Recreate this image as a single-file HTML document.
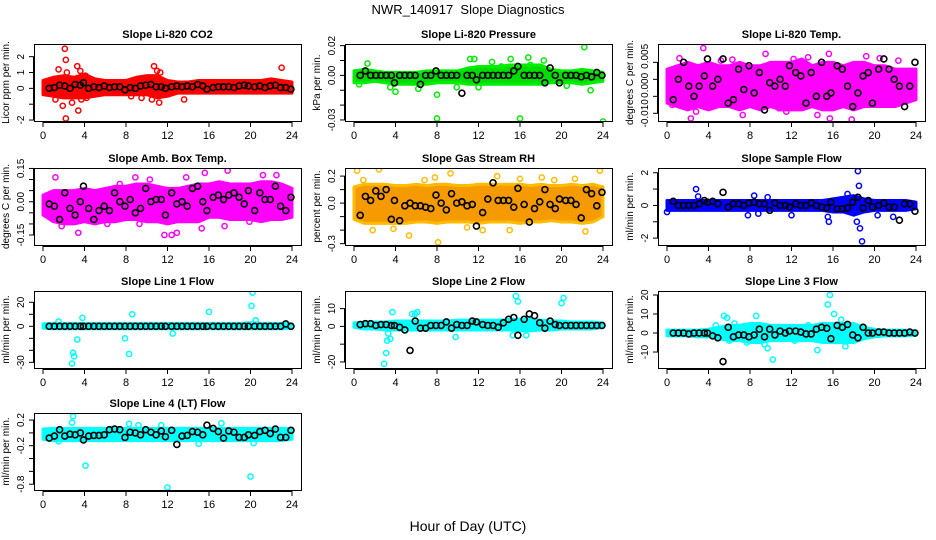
<!DOCTYPE html>
<html><head><meta charset="utf-8"><title>NWR_140917 Slope Diagnostics</title>
<style>
html,body{margin:0;padding:0;background:#fff;}
svg{display:block;font-family:"Liberation Sans",Arial,sans-serif;}
</style></head>
<body>
<svg id="chart" width="936" height="540" viewBox="0 0 936 540" xmlns="http://www.w3.org/2000/svg">
<rect x="0" y="0" width="936" height="540" fill="#fff"/>
<text x="468" y="14" text-anchor="middle" font-size="13">NWR_140917&#160; Slope Diagnostics</text>
<text x="468" y="531" text-anchor="middle" font-size="14">Hour of Day (UTC)</text>
</svg>
<script>
// ---- shared data ----
const hourTicks = [0,4,8,12,16,20,24];
const bandHours = [0,1,2,3,4,5,6,7,8,9,10,11,12,13,14,15,16,17,18,19,20,21,22,23,24];
const blackHours = [0.6,1.1,1.6,2.1,2.6,3.1,3.6,3.9,4.4,4.9,5.4,5.9,6.4,6.9,7.4,7.9,8.4,8.9,9.4,9.9,10.4,10.9,11.4,11.8,12.4,12.9,13.4,13.9,14.4,14.9,15.4,15.8,16.4,16.9,17.4,17.9,18.4,18.9,19.4,19.8,20.4,20.9,21.4,21.9,22.4,22.9,23.4,23.9];

// ---- CO2 ----
const co2Lower = [-0.4,-0.5,-0.6,-0.6,-0.6,-0.5,-0.4,-0.4,-0.4,-0.4,-0.4,-0.6,-0.5,-0.3,-0.3,-0.3,-0.3,-0.3,-0.3,-0.3,-0.3,-0.3,-0.3,-0.3,-0.3];
const co2Upper = [0.5,0.7,0.8,0.7,0.9,0.6,0.5,0.5,0.5,0.7,0.8,0.8,0.5,0.4,0.4,0.5,0.5,0.5,0.5,0.5,0.5,0.5,0.6,0.5,0.4];
const co2OutHours = [2.1,2.2,2.2,1.9,3.4,3.3,3.6,1.5,2.3,10.7,11.0,11.3,13.6,23.0,11.2,1.2,2.8,4.1,3.7,4.2,10.5,8.5,9.5];
const co2OutVals = [2.5,1.8,-1.9,-1.1,-1.4,1.4,1.1,1.2,1.0,1.4,1.1,1.0,-0.7,1.3,-0.9,-0.7,-0.9,0.8,-0.7,-0.6,-0.7,-0.5,-0.6];
const co2Black = [0,0.05,0.2,0.15,0,0.25,0.2,0.35,0,0.1,0.05,0.15,0.05,0.1,0.1,-0.1,0.05,0,0.15,0.2,0.25,0.1,0.1,0,0.1,0.15,0.1,0.15,0.1,0.25,0.15,-0.05,0.05,0.1,0.1,0.1,0.05,0.15,0.2,0.15,0.1,0.15,0.05,0.15,0.2,0.05,0.05,-0.05];

// ---- Pressure ----
const presLower = [-0.005,-0.005,-0.004,-0.005,-0.006,-0.006,-0.006,-0.006,-0.005,-0.005,-0.005,-0.006,-0.006,-0.006,-0.006,-0.006,-0.006,-0.006,-0.006,-0.005,-0.005,-0.005,-0.006,-0.005,-0.004];
const presUpper = [0.003,0.004,0.003,0.002,0.002,0.002,0.002,0.003,0.003,0.003,0.003,0.005,0.006,0.006,0.006,0.007,0.007,0.007,0.007,0.004,0.003,0.003,0.004,0.003,0.002];
const presOutHours = [8,16,24,22.2,1.3,4,11.2,11.6,12,8,13.3,15.1,16.8,18.3,22.8,6.2,9.9,17,0.5,3.5,14.2,20.5];
const presOutVals = [-0.029,-0.029,-0.031,0.019,0.008,-0.011,0.011,0.011,-0.008,-0.013,0.009,0.011,0.012,0.010,-0.010,-0.009,-0.008,0.007,-0.006,-0.008,0.006,-0.007];
const presBlack = [0,0.003,0,0,0,0,0,-0.005,0,0,0,0,-0.006,0,0,0.003,0,0,0,0,-0.012,0,0,-0.003,0,0,0,0,0,0,0.003,0.006,0,0,0,0,-0.005,0.005,0,-0.005,0,0,0,-0.001,0,-0.001,0.002,0];

// ---- Li-820 Temp ----
const tempLower = [-0.007,-0.008,-0.009,-0.008,-0.009,-0.008,-0.008,-0.009,-0.008,-0.009,-0.008,-0.009,-0.009,-0.009,-0.008,-0.009,-0.009,-0.008,-0.009,-0.008,-0.008,-0.008,-0.008,-0.007,-0.006];
const tempUpper = [0.003,0.004,0.005,0.004,0.005,0.004,0.004,0.005,0.004,0.004,0.005,0.005,0.005,0.006,0.004,0.005,0.005,0.004,0.005,0.005,0.004,0.004,0.003,0.003,0.003];
const tempOutHours = [3.5,2.3,9.5,7.3,0.5,2.8,15.6,13.6,19.2,17.8,15.7,14.5,6.3,11.5,1.2,5.2,20.5,12.2,10.8,22.3];
const tempOutVals = [0.0092,-0.0115,0.0075,-0.0105,-0.0075,-0.0095,0.0075,0.0065,0.0068,-0.0118,-0.0115,-0.0105,0.0058,-0.0095,0.0062,0.0055,0.0062,0.006,-0.0085,0.0055];
const tempBlack = [-0.006,0,0.005,-0.002,-0.005,-0.002,0.001,0.006,-0.002,0,0.006,-0.007,-0.006,0.003,-0.003,0.004,-0.004,0.002,-0.009,-0.001,-0.002,0,-0.002,0.004,0.002,0.001,-0.007,0.002,-0.005,0.005,-0.005,-0.004,0.004,0.003,-0.002,-0.008,-0.004,0.001,0.002,-0.007,0.003,0.006,0.003,0,-0.002,-0.008,-0.002,0.005];

// ---- Amb Box Temp ----
const ambLower = [-0.06,-0.09,-0.1,-0.1,-0.09,-0.1,-0.09,-0.09,-0.08,-0.08,-0.09,-0.09,-0.1,-0.09,-0.09,-0.09,-0.07,-0.07,-0.08,-0.08,-0.08,-0.09,-0.08,-0.08,-0.07];
const ambUpper = [0.03,0.05,0.05,0.05,0.06,0.05,0.06,0.07,0.07,0.08,0.08,0.07,0.06,0.06,0.07,0.08,0.08,0.09,0.08,0.08,0.08,0.09,0.09,0.08,0.06];
const ambOutHours = [2.5,1.2,3.4,11.7,12.4,12.9,15.3,17.8,15.6,21.2,22.5,13.8,9.3,6.2,7.4,1.8,8.9,10.3,17.5,19.9];
const ambOutVals = [-0.21,0.11,-0.14,-0.15,-0.15,-0.14,-0.12,0.14,0.13,0.12,0.12,0.11,-0.1,-0.1,0.08,-0.11,0.11,0.1,-0.11,-0.09];
const ambBlack = [-0.01,-0.02,-0.08,0.04,-0.03,-0.06,0,0.07,-0.03,-0.08,-0.04,-0.02,-0.04,0.04,0,-0.02,0.01,-0.05,-0.03,0.06,0,0.01,0.01,-0.06,0.04,-0.01,0,-0.02,0.06,0.07,0,-0.04,0.02,0.03,0.01,0.03,0.04,0.02,-0.01,0.05,-0.04,0.04,0.01,0.01,0.07,-0.02,-0.04,0.02];

// ---- Gas Stream RH ----
const rhLower = [-0.12,-0.15,-0.15,-0.15,-0.15,-0.15,-0.14,-0.14,-0.15,-0.14,-0.14,-0.14,-0.15,-0.14,-0.14,-0.14,-0.15,-0.14,-0.14,-0.13,-0.14,-0.14,-0.15,-0.14,-0.1];
const rhUpper = [0.12,0.14,0.14,0.14,0.13,0.13,0.14,0.13,0.14,0.14,0.13,0.13,0.14,0.14,0.14,0.14,0.14,0.13,0.14,0.13,0.13,0.14,0.13,0.14,0.12];
const rhOutHours = [0.3,2.4,8.1,5.3,22.3,23.7,1.8,9.3,13.8,18.1,21.3,3.8,10.9,16,0.9,6.8,12.4,15,19.3,7.8];
const rhOutVals = [0.24,0.25,-0.29,-0.24,-0.21,0.24,-0.2,0.22,0.2,0.19,0.18,-0.19,-0.18,0.18,0.17,0.17,-0.2,-0.2,0.17,0.19];
const rhBlack = [-0.09,0.05,0.02,0.09,0.05,0.1,-0.12,0.02,-0.13,-0.02,0,-0.02,-0.02,-0.03,-0.04,0.06,0,-0.05,0.07,0,0.01,-0.02,-0.01,-0.17,-0.07,0.03,0.15,0.02,0.02,0.02,-0.03,0.11,-0.01,-0.14,-0.04,0.01,0.1,-0.01,-0.04,0.03,0.02,0.02,-0.01,-0.11,0.1,0.07,-0.02,0.08];

// ---- Sample Flow ----
const sfLower = [-0.3,-0.3,-0.3,-0.3,-0.3,-0.3,-0.3,-0.3,-0.3,-0.3,-0.3,-0.3,-0.3,-0.3,-0.3,-0.3,-0.4,-0.4,-0.6,-0.4,-0.3,-0.3,-0.3,-0.3,-0.2];
const sfUpper = [0.3,0.3,0.3,0.3,0.3,0.3,0.3,0.3,0.3,0.3,0.3,0.3,0.3,0.3,0.3,0.3,0.4,0.5,0.6,0.4,0.3,0.3,0.3,0.3,0.2];
const sfOutHours = [2.8,3,8.4,9.7,7.8,8.8,12,15.5,15.6,18.4,18.5,18.3,18.6,18.8,17.4,20.3,21.8,0];
const sfOutVals = [1.0,0.55,0.6,0.5,-0.6,-0.5,-0.6,-0.7,-1.0,2.1,1.2,-1.0,-1.4,-2.2,0.7,-0.6,-0.7,-0.4];
const sfBlack = [0.25,0,0,0,0,0.1,0.3,0.2,0.25,0.1,0.8,-0.1,0.1,0.1,0,0.15,0.2,0.1,0.1,-0.3,0.15,0,0,-0.1,0.1,0,0,0.15,0,-0.1,-0.15,0.2,-0.2,-0.2,-0.15,0.2,0.5,-0.15,0.3,-0.1,0,0.15,-0.1,-0.1,-0.9,0.1,0.1,-0.35];

// ---- Line 1 Flow ----
const l1Lower = [-1.5,-2,-2,-2,-2,-2,-2,-2,-2,-2,-2,-2,-2,-2,-2,-2,-2,-2,-2,-2,-2,-2,-2,-2,-1.5];
const l1Upper = [2,2.5,2.5,2.5,2.5,2.5,2.5,2.5,2.5,2.5,2.5,2.5,2.5,2.5,2.5,2.5,2.5,2.5,2.5,2.5,3,2.5,2.5,2.5,2];
const l1OutHours = [2.8,2.9,3.0,3.3,3.8,8.3,8.6,7.9,16,20.2,20.1,20.5,1.5,12.5];
const l1OutVals = [-31,-22,-25,-11,7,-23,10,-10,12,28,17,5,4,-6];
const l1Black = [0,0,0,0,0,0,0,0,0,0,0,0,0,0,0,0,0,0,0,0,0,0,0,0,0,0,0,0,0,0,0,0,0,0,0,0,0,0,0,0,0,0,0,0,0,0,2,0];

// ---- Line 2 Flow ----
const l2Lower = [-0.5,-1.5,-1.5,-2,-2,-2,-2,-2,-2,-2,-2,-2,-2,-2,-2,-2,-2.5,-2.5,-2,-2,-1.5,-1.5,-1.5,-1.5,-0.5];
const l2Upper = [2,2.5,2.5,2.5,3,3,3,3,3,3,3.5,3.5,3.5,3.5,3.5,4,4,4,3.5,3,3,2.5,2.5,2.5,2];
const l2OutHours = [2.9,3.1,3.2,3.3,3.5,3.7,5.6,6.1,9.8,15.6,15.8,15.3,20.0,20.2,16.6,5.9];
const l2OutVals = [-21,-15,-8,-4,-7,8,7,8,-6,17,14,-5,13,16,-5,7];
const l2Black = [1,1.5,1.5,0.5,1,1,0.5,0.5,-0.5,-2,-13.5,3,-1,-1,0.5,0.5,0.5,2.5,-1,1,0.5,0.5,3,2.5,1,0.5,0.5,-0.5,2,4,5,-5,4,7,6,2,-1,3,1,0.5,0.5,0.5,0.5,0.5,0.5,0.5,0.5,0.5];

// ---- Line 3 Flow ----
const l3Lower = [-1.5,-1.5,-1.5,-2,-2,-3,-4,-4,-5,-5,-4,-4,-4,-4,-4,-5,-5,-5,-5,-3,-2,-1.5,-1.5,-1.5,-1];
const l3Upper = [1.5,1.5,1.5,1.5,2,3,4,4,5,5,4,4,4,4,4,5,5,5,5,3,2,1.5,1.5,1.5,1];
const l3OutHours = [5.5,5.8,6,7.7,8.6,9.4,9.7,10.2,15.5,15.7,16.1,17.2,14.5,13.6,6.5,4.7,12.3,16.8];
const l3OutVals = [9,8,-4,-5,9,-6,-8,-14,15,20,10,-7,-9,4,5,4,-4,7];
const l3Black = [0,0,0,-0.5,0,0,0,0,-1.5,-2.5,-15,3,-2,-1,-1,-2,-1,2,-2,2,-1,1,0,1,1,0.5,-0.5,-0.5,2,3,2.5,-3,4,3,4.5,-1,-2.5,3,0,0,0.5,0.5,0,0,0,0,0.5,0];

// ---- Line 4 (LT) Flow ----
const l4Lower = [-0.1,-0.12,-0.12,-0.12,-0.12,-0.12,-0.12,-0.12,-0.12,-0.12,-0.12,-0.12,-0.12,-0.12,-0.12,-0.12,-0.12,-0.12,-0.12,-0.12,-0.12,-0.12,-0.12,-0.12,-0.1];
const l4Upper = [0.06,0.07,0.07,0.07,0.07,0.07,0.07,0.07,0.07,0.07,0.07,0.07,0.07,0.07,0.07,0.07,0.07,0.07,0.07,0.07,0.07,0.07,0.07,0.07,0.06];
const l4OutHours = [2.9,2.8,4.1,12,20,8.3,9.2,15,17.2,20.3,1.5,11.4];
const l4OutVals = [0.26,0.16,-0.51,-0.85,-0.68,0.14,0.12,-0.17,0.15,-0.16,-0.13,0.12];
const l4Black = [-0.08,-0.05,0.05,-0.05,-0.02,-0.03,0,-0.11,-0.05,-0.04,-0.04,-0.03,0.05,0.06,0.05,-0.07,0.01,0,-0.03,0.05,0.01,-0.03,0.03,-0.06,0.04,-0.18,-0.05,-0.04,0.02,0.01,-0.03,0.12,0.07,0.02,-0.08,0.03,0.01,-0.07,-0.07,-0.03,-0.04,0.02,0.04,-0.01,0.06,-0.07,-0.07,0.04];

// ---- tick arrays ----
const co2Ticks = [-2,-1,0,1,2], co2Labels = ["-2","","0","1","2"];
const presTicks = [-0.03,-0.02,-0.01,0,0.01,0.02], presLabels = ["-0.03","","","0.00","","0.02"];
const tempTicks = [-0.010,-0.005,0,0.005], tempLabels = ["-0.010","","0.000","0.005"];
const ambTicks = [-0.15,-0.10,-0.05,0,0.05,0.10,0.15], ambLabels = ["-0.15","","","0.00","","","0.15"];
const rhTicks = [-0.3,-0.2,-0.1,0,0.1,0.2], rhLabels = ["-0.3","","","0.0","","0.2"];
const sfTicks = [-2,-1,0,1,2], sfLabels = ["-2","","0","","2"];
const l1Ticks = [-30,-20,-10,0,10,20], l1Labels = ["-30","","","0","","20"];
const l2Ticks = [-20,-10,0,10], l2Labels = ["-20","","0","10"];
const l3Ticks = [-10,0,10,20], l3Labels = ["-10","0","10","20"];
const l4Ticks = [-0.8,-0.6,-0.4,-0.2,0,0.2], l4Labels = ["-0.8","","","-0.2","","0.2"];

const NS = "http://www.w3.org/2000/svg";
const svg = document.getElementById("chart");
const colL = [34,345,658], colW = 267;
const rowT = [44,168,291,413], rowH = 77;

function mk(tag, attrs, parent) {
  const e = document.createElementNS(NS, tag);
  for (const k in attrs) e.setAttribute(k, attrs[k]);
  (parent || svg).appendChild(e);
  return e;
}

function panel(o) {
  const L = colL[o.col], T = rowT[o.row], W = colW, H = rowH;
  const g = mk("g", {});
  
  
  const xs = h => L + 9 + h * (W - 18) / 24;
  const ys = v => T + (o.ymax - v) / (o.ymax - o.ymin) * H;
  const clipId = "clip-" + o.name;
  const cp = mk("clipPath", {id: clipId}, g);
  mk("rect", {x: L, y: T, width: W, height: H}, cp);
  const plot = mk("g", {"clip-path": "url(#" + clipId + ")"}, g);
  let pts = [];
  for (let i = 0; i < bandHours.length; i++) pts.push(xs(bandHours[i]) + "," + ys(o.upper[i]));
  for (let i = bandHours.length - 1; i >= 0; i--) pts.push(xs(bandHours[i]) + "," + ys(o.lower[i]));
  const band = mk("polygon", {points: pts.join(" "), fill: o.fill, stroke: o.color, "stroke-width": 3, "stroke-linejoin": "round"}, plot);
  
  
  for (let i = 0; i < o.oh.length; i++) {
    const c = mk("circle", {cx: xs(o.oh[i]), cy: ys(o.ov[i]), r: 2.6, fill: "none", stroke: o.color, "stroke-width": 1.5}, plot);
    
    
  }
  for (let i = 0; i < blackHours.length; i++) {
    const c = mk("circle", {cx: xs(blackHours[i]), cy: ys(o.black[i]), r: 3, fill: "none", stroke: "#000", "stroke-width": 1.6}, plot);
    
    
  }
  const box = mk("rect", {x: L + 0.5, y: T + 0.5, width: W, height: H, fill: "none", stroke: "#000", "stroke-width": 1}, g);
  
  
  const xb = T + H + 1;
  mk("line", {x1: xs(0), x2: xs(24), y1: xb + 0.5, y2: xb + 0.5, stroke: "#000"}, g);
  for (const h of hourTicks) {
    mk("line", {x1: xs(h), x2: xs(h), y1: xb, y2: xb + 5, stroke: "#000"}, g);
    const t = mk("text", {x: xs(h), y: xb + 17, "text-anchor": "middle", "font-size": 11}, g);
    t.textContent = h;
    
    
  }
  mk("line", {x1: L - 0.5, x2: L - 0.5, y1: ys(o.ticks[0]), y2: ys(o.ticks[o.ticks.length - 1]), stroke: "#000"}, g);
  for (let i = 0; i < o.ticks.length; i++) {
    const y = ys(o.ticks[i]);
    mk("line", {x1: L - 5, x2: L, y1: y, y2: y, stroke: "#000"}, g);
    if (o.labels[i]) {
      const ly = y + (o.labelShift ? o.labelShift[i] : 0);
      const t = mk("text", {x: L - 10, y: ly, "text-anchor": "middle", "font-size": 10, transform: "rotate(-90 " + (L - 10) + " " + ly + ")"}, g);
      t.textContent = o.labels[i];
      
      
    }
  }
  const yt = mk("text", {x: L - 25, y: T + H / 2, "text-anchor": "middle", "font-size": 10, transform: "rotate(-90 " + (L - 25) + " " + (T + H / 2) + ")"}, g);
  yt.textContent = o.ylab;
  
  
  const tt = mk("text", {x: L + W / 2, y: T - 6, "text-anchor": "middle", "font-size": 11, "font-weight": "bold"}, g);
  tt.textContent = o.title;
  
  
}

panel({name:"co2", title:"Slope Li-820 CO2", ylab:"Licor ppm per min.", col:0,row:0, ymin:-2.06,ymax:2.8, color:"#ff0000", fill:"#ff0000", lower:co2Lower, upper:co2Upper, oh:co2OutHours, ov:co2OutVals, black:co2Black, ticks:co2Ticks, labels:co2Labels});
panel({name:"pressure", title:"Slope Li-820 Pressure", ylab:"kPa per min.", col:1,row:0, ymin:-0.0307,ymax:0.0211, color:"#00ee00", fill:"#00dd00", lower:presLower, upper:presUpper, oh:presOutHours, ov:presOutVals, black:presBlack, ticks:presTicks, labels:presLabels});
panel({name:"li820-temp", title:"Slope Li-820 Temp.", ylab:"degrees C per min.", col:2,row:0, ymin:-0.01226,ymax:0.0104, color:"#ff00ff", fill:"#ff00ff", lower:tempLower, upper:tempUpper, oh:tempOutHours, ov:tempOutVals, black:tempBlack, ticks:tempTicks, labels:tempLabels, labelShift:[0,0,6,-6]});
panel({name:"amb-temp", title:"Slope Amb. Box Temp.", ylab:"degrees C per min.", col:0,row:1, ymin:-0.195,ymax:0.152, color:"#ff00ff", fill:"#ff00ff", lower:ambLower, upper:ambUpper, oh:ambOutHours, ov:ambOutVals, black:ambBlack, ticks:ambTicks, labels:ambLabels});
panel({name:"rh", title:"Slope Gas Stream RH", ylab:"percent per min.", col:1,row:1, ymin:-0.31,ymax:0.26, color:"#ffbb00", fill:"#f59a00", lower:rhLower, upper:rhUpper, oh:rhOutHours, ov:rhOutVals, black:rhBlack, ticks:rhTicks, labels:rhLabels});
panel({name:"sample-flow", title:"Slope Sample Flow", ylab:"ml/min per min.", col:2,row:1, ymin:-2.42,ymax:2.29, color:"#0000ff", fill:"#0000ff", lower:sfLower, upper:sfUpper, oh:sfOutHours, ov:sfOutVals, black:sfBlack, ticks:sfTicks, labels:sfLabels});
panel({name:"line1", title:"Slope Line 1 Flow", ylab:"ml/min per min.", col:0,row:2, ymin:-34.7,ymax:29.4, color:"#00ffff", fill:"#00ffff", lower:l1Lower, upper:l1Upper, oh:l1OutHours, ov:l1OutVals, black:l1Black, ticks:l1Ticks, labels:l1Labels});
panel({name:"line2", title:"Slope Line 2 Flow", ylab:"ml/min per min.", col:1,row:2, ymin:-23.4,ymax:19.9, color:"#00ffff", fill:"#00ffff", lower:l2Lower, upper:l2Upper, oh:l2OutHours, ov:l2OutVals, black:l2Black, ticks:l2Ticks, labels:l2Labels});
panel({name:"line3", title:"Slope Line 3 Flow", ylab:"ml/min per min.", col:2,row:2, ymin:-18.4,ymax:22.1, color:"#00ffff", fill:"#00ffff", lower:l3Lower, upper:l3Upper, oh:l3OutHours, ov:l3OutVals, black:l3Black, ticks:l3Ticks, labels:l3Labels});
panel({name:"line4", title:"Slope Line 4 (LT) Flow", ylab:"ml/min per min.", col:0,row:3, ymin:-0.89,ymax:0.31, color:"#00ffff", fill:"#00ffff", lower:l4Lower, upper:l4Upper, oh:l4OutHours, ov:l4OutVals, black:l4Black, ticks:l4Ticks, labels:l4Labels});
</script>
</body></html>
